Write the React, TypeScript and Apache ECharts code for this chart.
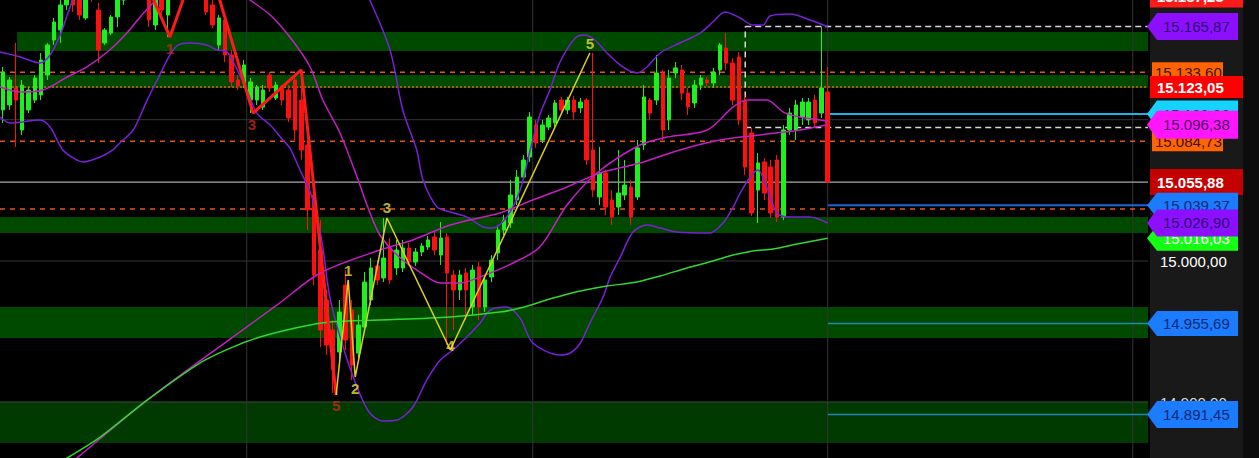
import { useEffect, useRef } from "react";
import * as echarts from "echarts";

const SLOTS = 181;
const PRICE_MIN = 14860.6;
const PRICE_MAX = 15184.7;
const X_START = -0.5;
const X_END = SLOTS - 0.5;

// [open, close, low, high]
const candles = [
  [15106.9, 15133.7, 15097.7, 15137.3], [15110.4, 15128.1, 15106.9, 15130.2], [15122.4, 15113.9, 15080.7, 15154.3],
  [15092.7, 15124.5, 15089.2, 15128.1], [15106.9, 15121.0, 15104.7, 15123.1], [15113.9, 15129.5, 15111.8, 15131.6],
  [15117.5, 15142.2, 15113.9, 15147.2], [15131.6, 15152.9, 15128.1, 15154.3], [15156.4, 15169.1, 15152.9, 15172.0],
  [15163.5, 15181.2, 15154.3, 15188.2], [15181.2, 15198.9, 15177.6, 15205.9], [15195.3, 15181.2, 15176.2, 15202.4],
  [15191.8, 15174.1, 15170.6, 15198.9], [15172.0, 15188.2, 15170.6, 15195.3], [15198.9, 15188.2, 15183.3, 15205.9],
  [15177.6, 15149.3, 15140.1, 15182.6], [15154.3, 15163.5, 15152.9, 15164.9], [15161.3, 15172.7, 15159.9, 15174.1],
  [15172.7, 15184.7, 15165.6, 15188.2], [15184.7, 15198.9, 15181.2, 15205.9], [15202.4, 15191.8, 15188.2, 15209.5],
  [15191.8, 15205.9, 15188.2, 15213.0], [15205.9, 15195.3, 15191.8, 15213.0], [15191.8, 15170.6, 15165.6, 15198.9],
  [15167.0, 15188.2, 15163.5, 15195.3], [15195.3, 15177.6, 15170.6, 15202.4], [15174.1, 15188.2, 15158.5, 15195.3],
  [15188.2, 15202.4, 15184.7, 15209.5], [15205.9, 15198.9, 15195.3, 15216.5], [15198.9, 15213.0, 15195.3, 15220.1],
  [15213.0, 15202.4, 15198.9, 15220.1], [15202.4, 15188.2, 15184.7, 15209.5], [15191.8, 15176.2, 15174.1, 15198.9],
  [15181.2, 15167.0, 15164.9, 15188.2], [15152.9, 15172.0, 15149.3, 15174.1], [15170.6, 15145.8, 15140.8, 15174.1],
  [15145.8, 15126.7, 15123.1, 15149.3], [15128.1, 15123.8, 15121.0, 15131.6], [15126.0, 15138.7, 15122.4, 15142.2],
  [15113.9, 15126.7, 15104.7, 15129.5], [15113.9, 15123.1, 15110.4, 15124.5], [15109.0, 15121.0, 15106.9, 15124.5],
  [15131.6, 15122.4, 15119.6, 15133.7], [15115.3, 15124.5, 15113.9, 15126.7], [15123.1, 15113.9, 15110.4, 15124.5],
  [15121.0, 15101.2, 15098.4, 15124.5], [15128.1, 15092.7, 15085.6, 15131.6], [15113.9, 15078.6, 15071.5, 15135.2],
  [15082.1, 15036.1, 15021.9, 15085.6], [15046.7, 14990.1, 14983.0, 15060.9], [15007.8, 14951.2, 14939.1, 15029.0],
  [14972.4, 14940.5, 14933.5, 14979.5], [14951.2, 14922.9, 14906.6, 14958.2], [14935.6, 14963.9, 14929.9, 14972.4],
  [14983.0, 14944.1, 14937.0, 14993.6], [14965.3, 14926.4, 14915.8, 14972.4], [14934.9, 14954.7, 14929.9, 14961.8],
  [14953.3, 14985.1, 14949.7, 14992.2], [14972.4, 14995.1, 14968.9, 15002.1], [14996.5, 14986.6, 14983.0, 15000.7],
  [14988.0, 15002.1, 14985.1, 15030.4], [15009.2, 14986.6, 14983.7, 15016.3], [14995.1, 15007.8, 14990.1, 15014.9],
  [14995.1, 15009.2, 14992.2, 15014.9], [15009.2, 14999.3, 14996.5, 15012.7], [14999.3, 15006.4, 14996.5, 15009.2],
  [15006.4, 15010.6, 15003.5, 15012.7], [15009.9, 15014.9, 15007.8, 15017.7], [15017.0, 15007.8, 15004.2, 15020.5],
  [15004.2, 15016.3, 14997.2, 15027.6], [15017.0, 14991.5, 14940.5, 15019.8], [14990.1, 14979.5, 14951.2, 14993.6],
  [14979.5, 14990.1, 14972.4, 14993.6], [14991.5, 14979.5, 14958.2, 14995.1], [14967.4, 14993.6, 14961.8, 14997.2],
  [14995.8, 14967.4, 14958.2, 14999.3], [14967.4, 14986.6, 14963.9, 14990.1], [14988.7, 15000.7, 14985.1, 15004.2],
  [15005.7, 15021.9, 15000.7, 15025.5], [15021.9, 15029.0, 15018.4, 15032.6], [15026.9, 15046.7, 15023.4, 15057.3],
  [15043.2, 15059.4, 15039.6, 15064.4], [15059.4, 15071.5, 15057.3, 15075.0], [15073.6, 15101.9, 15070.1, 15105.4],
  [15096.2, 15083.5, 15080.0, 15099.8], [15085.6, 15096.2, 15083.5, 15099.8], [15094.8, 15101.2, 15092.7, 15103.3],
  [15097.7, 15111.8, 15094.8, 15113.9], [15113.9, 15106.9, 15104.7, 15116.1], [15106.9, 15113.9, 15104.0, 15116.1],
  [15113.9, 15105.4, 15099.8, 15116.8], [15108.3, 15112.5, 15104.7, 15115.3], [15113.9, 15071.5, 15067.9, 15115.3],
  [15078.6, 15050.2, 15045.3, 15147.2], [15045.3, 15062.3, 15039.6, 15080.7], [15062.3, 15038.2, 15032.6, 15064.4],
  [15043.2, 15031.1, 15025.5, 15050.2], [15038.2, 15048.1, 15032.6, 15078.6], [15046.7, 15053.8, 15043.2, 15071.5],
  [15052.4, 15031.1, 15025.5, 15057.3], [15045.3, 15080.0, 15043.2, 15085.6], [15082.1, 15116.1, 15078.6, 15124.5],
  [15113.9, 15104.7, 15099.8, 15115.3], [15113.9, 15133.0, 15110.4, 15145.8], [15133.0, 15092.7, 15085.6, 15135.2],
  [15099.8, 15129.5, 15092.7, 15135.2], [15133.0, 15136.6, 15129.5, 15140.8], [15135.2, 15118.9, 15113.9, 15138.7],
  [15118.9, 15109.0, 15103.3, 15122.4], [15111.8, 15124.5, 15108.3, 15128.1], [15124.5, 15129.5, 15121.0, 15131.6],
  [15128.1, 15126.0, 15123.8, 15130.2], [15126.0, 15133.7, 15122.4, 15136.6], [15135.2, 15152.9, 15131.6, 15154.3],
  [15150.7, 15140.1, 15135.2, 15161.3], [15140.1, 15113.9, 15110.4, 15143.7], [15144.4, 15099.8, 15096.2, 15147.9],
  [15113.9, 15066.5, 15060.9, 15117.5], [15090.6, 15034.0, 15031.8, 15094.1], [15050.2, 15069.4, 15026.9, 15076.4],
  [15070.1, 15048.1, 15043.2, 15072.9], [15066.5, 15034.0, 15030.4, 15071.5], [15071.5, 15031.1, 15027.6, 15075.0],
  [15031.1, 15092.7, 15029.0, 15096.2], [15092.7, 15104.7, 15089.2, 15108.3], [15092.7, 15110.4, 15085.6, 15113.9],
  [15101.9, 15112.5, 15096.2, 15115.3], [15099.8, 15112.5, 15096.2, 15115.3], [15113.9, 15097.7, 15094.1, 15117.5],
  [15104.7, 15122.4, 15101.2, 15165.87], [15119.6, 15055.88, 15055.2, 15137.3],
];

// [bar index, price]
const upperBand = [
  [-0.5, 15147.9], [2.7, 15144.4], [5.8, 15140.1], [7.4, 15145.8], [9.0, 15159.9], [10.1, 15174.1], [10.9, 15184.7],
  [12.5, 15210], [16, 15240], [25, 15260], [35, 15262], [45, 15250], [52, 15232], [55, 15210], [57.8, 15184.7],
  [61.0, 15149.3], [63.0, 15106.9], [65.2, 15078.6], [66.2, 15057.3], [68.4, 15038.2], [70.5, 15034.7], [73.1, 15031.1],
  [75.7, 15024.1], [77.2, 15023.4], [79.4, 15031.1], [81.5, 15050.2], [83.1, 15078.6], [84.6, 15103.3], [86.2, 15121.0],
  [87.8, 15140.8], [90.2, 15157.8], [91.7, 15159.9], [93.3, 15156.4], [95.2, 15147.2], [97.7, 15137.3], [99.9, 15133.0],
  [101.5, 15137.3], [103.6, 15147.2], [106.7, 15154.3], [109.9, 15161.3], [111.9, 15169.1], [113.8, 15176.2],
  [116.2, 15172.0], [118.2, 15167.0], [119.8, 15167.0], [120.9, 15173.4], [124.1, 15174.8], [127.2, 15170.6], [130, 15165.87],
];
const middleBand = [
  [-0.5, 15123.1], [2.7, 15119.6], [6.3, 15121.0], [10.1, 15130.2], [13.2, 15137.3], [16.8, 15149.3], [19.5, 15161.3],
  [21.6, 15172.7], [23.6, 15182.6], [25.5, 15191.8], [31, 15202.4], [36.6, 15191.8], [38.9, 15184.7], [42.1, 15174.1],
  [45.2, 15158.5], [48.4, 15137.3], [50.4, 15113.9], [53.1, 15090.6], [55.8, 15059.4], [57.5, 15038.0], [59.4, 15018.4],
  [62.6, 15002.1], [65.7, 14992.2], [68.9, 14984.4], [72.0, 14984.4], [75.2, 14988.7], [80.4, 14998.6], [84.6, 15009.9],
  [88.9, 15039.6], [93.6, 15062.3], [100.4, 15082.1], [104.7, 15087.7], [111.0, 15092.7], [115.1, 15109.0],
  [117.3, 15113.9], [120.4, 15113.9], [123.0, 15105.4], [125.6, 15101.9], [128.8, 15099.8], [130, 15098.9],
];
const lowerBand = [
  [-0.5, 15101.9], [1.1, 15097.7], [5.8, 15099.8], [7.4, 15094.8], [9.4, 15078.6], [11.6, 15071.5], [12.6, 15070.1],
  [15.3, 15073.6], [17.3, 15078.6], [18.4, 15083.5], [20.5, 15092.7], [22.7, 15113.9], [24.3, 15128.1], [26.3, 15145.8],
  [27.6, 15152.9], [29.5, 15154.3], [32.1, 15152.9], [33.7, 15149.3], [35.3, 15147.9], [36.9, 15135.2], [38.4, 15121.0],
  [40.0, 15104.7], [42.1, 15096.2], [44.1, 15085.6], [45.2, 15080.0], [46.8, 15064.4], [48.4, 15048.8], [49.5, 15031.1],
  [50.4, 15009.9], [51.5, 14974.5], [53.6, 14939.1], [55.8, 14910.8], [57.8, 14892.4], [59.9, 14886.8], [62.1, 14887.5],
  [64.6, 14896.7], [66.8, 14915.8], [68.9, 14929.9], [70.9, 14937.0], [73.1, 14946.2], [75.2, 14956.1], [76.8, 14965.3],
  [79.4, 14967.4], [81.5, 14959.6], [83.5, 14942.0], [87.8, 14933.5], [89.4, 14934.9], [91.0, 14942.0], [92.5, 14956.1],
  [94.6, 14974.5], [95.7, 14988.7], [97.3, 15002.8], [99.3, 15020.5], [101.5, 15025.5], [103.6, 15023.4], [106.2, 15020.5],
  [111.4, 15019.8], [113.5, 15026.9], [115.1, 15038.2], [116.2, 15048.1], [117.8, 15059.4], [119.0, 15064.4],
  [120.4, 15052.4], [122.0, 15034.0], [124.1, 15031.1], [127.2, 15031.1], [130, 15026.9],
];
const ma50 = [
  [9.0, 14852], [11.6, 14860.6], [22.7, 14901.6], [36.2, 14946.2], [43.2, 14968.9], [50.0, 14991.5], [59.4, 15007.8],
  [64.6, 15014.9], [70.5, 15025.5], [78.3, 15034.0], [83.5, 15043.2], [88.9, 15052.4], [94.1, 15062.3], [100.4, 15069.4],
  [106.7, 15078.6], [113.0, 15085.6], [119.3, 15089.2], [125.6, 15092.7], [130, 15096.38],
];
const ma200 = [
  [9.0, 14857.7], [10.1, 14860.6], [15.3, 14875.4], [22.7, 14901.6], [31.0, 14927.8], [36.2, 14939.1], [40.5, 14946.2],
  [46.8, 14953.3], [51.5, 14956.8], [59.4, 14958.2], [70.5, 14960.4], [78.3, 14963.9], [81.5, 14966.7], [86.7, 14973.8],
  [91.0, 14978.8], [95.2, 14982.3], [99.9, 14985.1], [103.6, 14989.4], [107.8, 14995.1], [111.9, 15000.0],
  [115.1, 15004.2], [118.2, 15007.1], [121.4, 15008.5], [125.2, 15012.0], [130, 15016.03],
];

const redWave = [[21.7, 15205], [26.3, 15158.5], [31.5, 15225], [39.4, 15104.7], [47.0, 15135.2], [52.5, 14905.2]];
const yellowWave = [[52.5, 14905.2], [54.4, 14986.6], [55.5, 14917.9], [60.5, 15030.4], [70.5, 14937.0], [92.5, 15147.2]];
const redWaveLabels: [string, number, number][] = [["1", 26.3, 15150.7], ["3", 39.2, 15096.9], ["5", 52.5, 14897.4]];
const yellowWaveLabels: [string, number, number][] = [
  ["1", 54.4, 14993.6], ["2", 55.5, 14910.1], ["3", 60.5, 15038.2], ["4", 70.5, 14940.5], ["5", 92.5, 15153.6],
];

// [low, high, first bar index]
const zones = [
  [15148.6, 15162.1, 2.2], [15122.4, 15131.6, -0.5], [15019.8, 15031.1, -0.5],
  [14945.5, 14967.4, -0.5], [14871.2, 14900.9, -0.5],
];
const gridLevels = [15100, 15000, 14900];
const gridColumns = [38.4, 83.5, 130.0, 178.1];
const orangeDashedLevels = [15133.6, 15084.73, 15036.8];
const orangeDottedLevels = [15123.05];
const lastPrice = 15055.88;
const rangeBoxHigh = 15165.87;
const rangeBoxLow = 15094.5;
const rangeBoxStart = 117.0;
const projectionStart = 130.05;
const cyanLevels = [15103.96];
const blueLevels = [15039.37];
const tealLevels = [14955.69, 14891.45];
const axisTagValues = [
  15187.25, 15165.87, 15133.6, 15084.73, 15103.96, 15123.05, 15096.38, 15055.88,
  15039.37, 15016.03, 15026.9, 15000.0, 14955.69, 14900.0, 14891.45,
];

const TAG_STYLES: any[] = [
  { kind: "wide", fill: "#ff1a1a", color: "#ffffff", bold: true, h: 22 },
  { kind: "arrow", fill: "#8c10ff", color: "#2e0c72", h: 27 },
  { kind: "small", fill: "#ff6400", color: "#3a1400", h: 20 },
  { kind: "small", fill: "#ff6400", color: "#3a1400", h: 20 },
  { kind: "arrow", fill: "#16d2ff", color: "#0b3350", h: 27 },
  { kind: "wide", fill: "#ff0000", color: "#ffffff", bold: true, h: 22 },
  { kind: "arrow", fill: "#ff16ff", color: "#4c0e5e", h: 28 },
  { kind: "wide", fill: "#c40000", color: "#ffffff", bold: true, h: 26 },
  { kind: "arrow", fill: "#1c7cff", color: "#0a2a72", h: 25 },
  { kind: "arrow", fill: "#14ff14", color: "#ffffff", h: 25 },
  { kind: "arrow", fill: "#8c10ff", color: "#2e0c72", h: 27 },
  { kind: "plain", color: "#ffffff" },
  { kind: "arrow", fill: "#1c7cff", color: "#0a2a72", h: 25 },
  { kind: "plain", color: "#d8d8d8" },
  { kind: "arrow", fill: "#1c7cff", color: "#0a2a72", h: 27 },
];

const fmt = (v: number) => {
  const [a, b] = v.toFixed(2).split(".");
  return a.replace(/\B(?=(\d{3})+(?!\d))/g, ".") + "," + b;
};

const FONT = '"Liberation Sans", Arial, sans-serif';

function seg(data: number[][], color: string, width: number, type: any, z: number, smooth: any = false) {
  return {
    type: "line",
    xAxisIndex: 1,
    yAxisIndex: 0,
    data,
    symbol: "none",
    showSymbol: false,
    silent: true,
    smooth,
    lineStyle: { color, width, type },
    z,
  };
}
const hline = (v: number, x0: number, x1: number, color: string, width: number, type: any, z: number) =>
  seg([[x0, v], [x1, v]], color, width, type, z);
const vline = (x: number, y0: number, y1: number, color: string, width: number, type: any, z: number) =>
  seg([[x, y0], [x, y1]], color, width, type, z);

function buildOption() {
  const categories = Array.from({ length: SLOTS }, (_, i) => String(i));
  const series: any[] = [];

  series.push({
    type: "line",
    xAxisIndex: 1,
    yAxisIndex: 0,
    data: [[X_START, PRICE_MIN], [X_END, PRICE_MIN]],
    symbol: "none",
    lineStyle: { opacity: 0 },
    silent: true,
    z: 1,
    markArea: {
      silent: true,
      data: zones.map(([lo, hi, s], k) => [
        { coord: [s, hi], itemStyle: { color: k === 4 ? "#003a00" : "#004a00" } },
        { coord: [X_END, lo] },
      ]),
    },
  });

  gridLevels.forEach((v) => series.push(hline(v, X_START, X_END, "#353535", 1, "solid", 2)));
  gridColumns.forEach((x) => series.push(vline(x, PRICE_MIN, PRICE_MAX, "#353535", 1, "solid", 2)));
  series.push(hline(lastPrice, X_START, X_END, "#a8a8a8", 1.2, "solid", 3));
  orangeDashedLevels.forEach((v) => series.push(hline(v, X_START, X_END, "#e2561a", 1.5, [5, 5], 3)));
  orangeDottedLevels.forEach((v) => series.push(hline(v, X_START, X_END, "#d8601a", 1.5, [2, 2], 3)));
  series.push(hline(rangeBoxHigh, rangeBoxStart, X_END, "#d8d8d8", 1.5, [6, 4], 3));
  series.push(hline(rangeBoxLow, rangeBoxStart, X_END, "#d8d8d8", 1.5, [6, 4], 3));
  series.push(vline(rangeBoxStart, rangeBoxLow, rangeBoxHigh, "#d8d8d8", 1.5, [6, 4], 3));
  cyanLevels.forEach((v) => series.push(hline(v, projectionStart, X_END, "#18b4e8", 2, "solid", 3)));
  blueLevels.forEach((v) => series.push(hline(v, projectionStart, X_END, "#1466e0", 2, "solid", 3)));
  tealLevels.forEach((v) => series.push(hline(v, projectionStart, X_END, "#2186b8", 1.5, "solid", 3)));

  series.push({
    type: "candlestick",
    xAxisIndex: 0,
    yAxisIndex: 0,
    data: candles,
    barWidth: 4,
    silent: true,
    z: 5,
    itemStyle: {
      color: "#1df01d",
      color0: "#ff1010",
      borderColor: "#1df01d",
      borderColor0: "#ff1010",
      borderWidth: 1,
    },
  });

  series.push(seg(upperBand, "#7a20d8", 1.5, "solid", 6, 0.3));
  series.push(seg(lowerBand, "#7a20d8", 1.5, "solid", 6, 0.3));
  series.push(seg(middleBand, "#c41ec4", 1.5, "solid", 6, 0.3));
  series.push(seg(ma50, "#c41ec4", 1.5, "solid", 6, 0.3));
  series.push(seg(ma200, "#2fd82f", 1.5, "solid", 6, 0.3));

  series.push(seg(redWave, "#ff1a1a", 3, "solid", 7));
  series.push(seg(yellowWave, "#e2cf22", 1.5, "solid", 7));

  const labelSeries = (items: [string, number, number][], color: string) => ({
    type: "scatter",
    xAxisIndex: 1,
    yAxisIndex: 0,
    symbolSize: 0,
    silent: true,
    z: 8,
    data: items.map(([t, x, y]) => ({
      value: [x, y],
      label: {
        show: true,
        position: "inside",
        formatter: t,
        color,
        fontSize: 15,
        fontWeight: "bold",
        fontFamily: FONT,
      },
    })),
  });
  series.push(labelSeries(redWaveLabels, "#c82a12"));
  series.push(labelSeries(yellowWaveLabels, "#f2df36"));

  return {
    animation: false,
    backgroundColor: "#000000",
    grid: { left: 0, top: 0, width: 1148, height: 458 },
    xAxis: [
      { type: "category", data: categories, show: false, boundaryGap: true },
      { type: "value", min: X_START, max: X_END, show: false },
    ],
    yAxis: [{ type: "value", min: PRICE_MIN, max: PRICE_MAX, show: false }],
    series,
  };
}

function buildTags(chart: any) {
  const els: any[] = [
    { type: "rect", shape: { x: 1150, y: 0, width: 93, height: 458 }, style: { fill: "#191919" }, z: 10 },
    { type: "rect", shape: { x: 1243, y: 0, width: 16, height: 458 }, style: { fill: "#0c0c0c" }, z: 10 },
  ];
  axisTagValues.forEach((v, k) => {
    const s = TAG_STYLES[k];
    const y = chart.convertToPixel({ yAxisIndex: 0 }, v) as number;
    const z = 20 + k * 2;
    let tx = 1163;
    if (s.kind === "arrow") {
      const h = s.h / 2;
      els.push({
        type: "polygon",
        shape: { points: [[1147, y], [1157, y - h], [1238, y - h], [1238, y + h], [1157, y + h]] },
        style: { fill: s.fill },
        z,
      });
    } else if (s.kind === "wide") {
      els.push({ type: "rect", shape: { x: 1150, y: y - s.h / 2, width: 93, height: s.h }, style: { fill: s.fill }, z });
      tx = 1157;
    } else if (s.kind === "small") {
      els.push({ type: "rect", shape: { x: 1152, y: y - s.h / 2, width: 71, height: s.h }, style: { fill: s.fill }, z });
      tx = 1155;
    } else {
      tx = 1160;
    }
    els.push({
      type: "text",
      z: z + 1,
      style: {
        text: fmt(v),
        x: tx,
        y,
        fill: s.color,
        font: `${s.bold ? "bold " : ""}15px ${FONT}`,
        verticalAlign: "middle",
        textVerticalAlign: "middle",
      },
    });
  });
  return els;
}

export default function App() {
  const ref = useRef<HTMLDivElement>(null);
  useEffect(() => {
    const chart = echarts.init(ref.current!, null, { renderer: "svg" });
    chart.setOption(buildOption() as any);
    chart.setOption({ graphic: { elements: buildTags(chart) } } as any);
    return () => chart.dispose();
  }, []);
  return (
    <div
      ref={ref}
      style={{ position: "fixed", left: 0, top: 0, width: 1259, height: 458, background: "#000" }}
    />
  );
}
